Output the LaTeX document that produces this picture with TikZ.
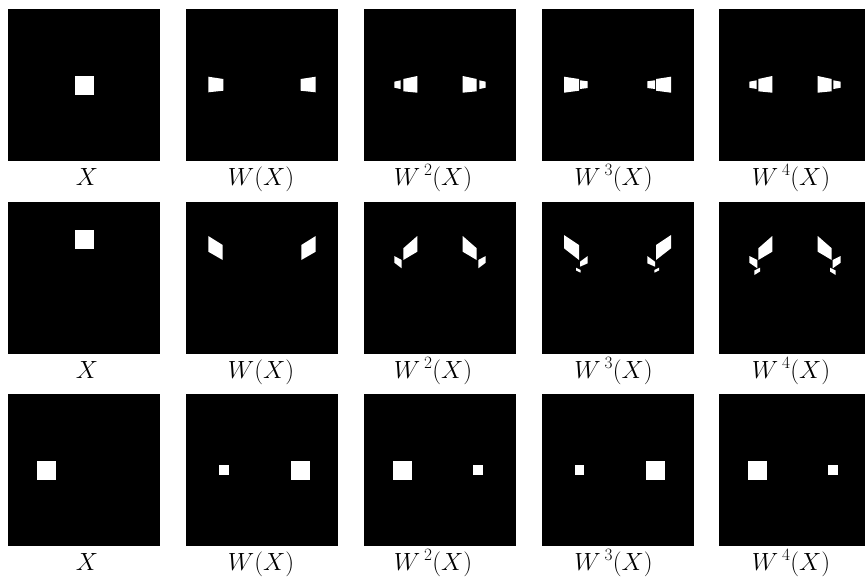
\documentclass[tikz,border=0pt]{standalone}
\begin{document}
\begin{tikzpicture}[x=1pt,y=-1pt,
  lab/.style={anchor=base,inner sep=0pt,font=\fontsize{25}{30}\selectfont},
  wp/.style={fill=white}]
\useasboundingbox (0,0) rectangle (865,579);
\clip (0,0) rectangle (865,579);
% panels
\foreach \px in {8,186,364,541.5,719}{
  \foreach \py in {9,201.5,394}{
    \fill[black] (\px,\py) rectangle ++(152,152);
  }
}
% ---------------- Row 1 ----------------
\begin{scope}[shift={(8,9)}]
  \fill[wp] (66.5,66.5) rectangle (85.5,85.5);
\end{scope}
\foreach \s in {1,-1}{
\begin{scope}[shift={(186,9)},shift={(76,0)},xscale=\s,shift={(-76,0)}]
  \fill[wp] (22.3,67.7) -- (37.3,70) -- (37.3,81.7) -- (22.3,83.3) -- cycle;
\end{scope}
\begin{scope}[shift={(364,9)},shift={(76,0)},xscale=\s,shift={(-76,0)}]
  \fill[wp] (30.3,72.7) -- (36.7,71.3) -- (36.7,80) -- (30.3,78.7) -- cycle;
  \fill[wp] (39.3,70) -- (53.3,67) -- (53.3,83.7) -- (39.3,82.3) -- cycle;
\end{scope}
\begin{scope}[shift={(541.5,9)},shift={(76,0)},xscale=\s,shift={(-76,0)}]
  \fill[wp] (22.5,67.7) -- (37.5,70) -- (37.5,81.7) -- (22.5,83.7) -- cycle;
  \fill[wp] (38.5,71.3) -- (46.2,72.3) -- (46.2,79) -- (38.5,80) -- cycle;
\end{scope}
\begin{scope}[shift={(719,9)},shift={(76,0)},xscale=\s,shift={(-76,0)}]
  \fill[wp] (30.3,72.7) -- (37.7,71.3) -- (37.7,80) -- (30.3,78.7) -- cycle;
  \fill[wp] (39.3,70) -- (53.3,67) -- (53.3,83.7) -- (39.3,82.3) -- cycle;
\end{scope}
}
% ---------------- Row 2 ----------------
\begin{scope}[shift={(8,201.5)}]
  \fill[wp] (66.5,28.5) rectangle (85.5,47.5);
\end{scope}
\foreach \s in {1,-1}{
\begin{scope}[shift={(186,201.5)},shift={(76,0)},xscale=\s,shift={(-76,0)}]
  \fill[wp] (22.3,34.5) -- (36.7,43.5) -- (36.7,58.5) -- (22.3,50.2) -- cycle;
\end{scope}
\begin{scope}[shift={(364,201.5)},shift={(76,0)},xscale=\s,shift={(-76,0)}]
  \fill[wp] (39.3,46.8) -- (53.3,34.5) -- (53.3,50.2) -- (39.3,58.5) -- cycle;
  \fill[wp] (30.3,54.5) -- (37.7,58.5) -- (37.7,66.8) -- (30.3,61.2) -- cycle;
\end{scope}
\begin{scope}[shift={(541.5,201.5)},shift={(76,0)},xscale=\s,shift={(-76,0)}]
  \fill[wp] (22.5,33.5) -- (37.5,43.5) -- (37.5,58.5) -- (22.5,46.8) -- cycle;
  \fill[wp] (38.5,60.2) -- (46.2,54.5) -- (46.2,61.8) -- (38.5,65.2) -- cycle;
  \fill[wp] (34.5,66.2) -- (39.2,68.5) -- (39.2,71.2) -- (34.5,69) -- cycle;
\end{scope}
\begin{scope}[shift={(719,201.5)},shift={(76,0)},xscale=\s,shift={(-76,0)}]
  \fill[wp] (39.3,46.8) -- (53.3,34.5) -- (53.3,50.2) -- (39.3,58.5) -- cycle;
  \fill[wp] (30.3,54.5) -- (38.3,58.5) -- (38.3,66.8) -- (30.3,61.2) -- cycle;
  \fill[wp] (35.3,69) -- (41,66.2) -- (41,70) -- (35.3,73.5) -- cycle;
\end{scope}
}
% ---------------- Row 3 ----------------
\begin{scope}[shift={(8,394)}]
  \fill[wp] (28.5,66.5) rectangle (47.5,85.5);
\end{scope}
\begin{scope}[shift={(186,394)}]
  \fill[wp] (33.25,71.25) rectangle (42.75,80.75);
  \fill[wp] (104.5,66.5) rectangle (123.5,85.5);
\end{scope}
\begin{scope}[shift={(364,394)}]
  \fill[wp] (28.5,66.5) rectangle (47.5,85.5);
  \fill[wp] (109.25,71.25) rectangle (118.75,80.75);
\end{scope}
\begin{scope}[shift={(541.5,394)}]
  \fill[wp] (33.25,71.25) rectangle (42.75,80.75);
  \fill[wp] (104.5,66.5) rectangle (123.5,85.5);
\end{scope}
\begin{scope}[shift={(719,394)}]
  \fill[wp] (28.5,66.5) rectangle (47.5,85.5);
  \fill[wp] (109.25,71.25) rectangle (118.75,80.75);
\end{scope}
% ---------------- Labels ----------------
\foreach \r/\yy in {a/185,b/378,c/570}{
  \node[lab] (x\r)  at (87,\yy)    {$X$};
  \node[lab] (w\r)  at (261,\yy)   {$W(X)$};
  \node[lab] (ww\r) at (433,\yy)   {$W^{\mkern4mu 2}(X)$};
  \node[lab] (w3\r) at (613.5,\yy) {$W^{\mkern4mu 3}(X)$};
  \node[lab] (w4\r) at (791,\yy)   {$W^{\mkern4mu 4}(X)$};
}
\end{tikzpicture}
\end{document}
